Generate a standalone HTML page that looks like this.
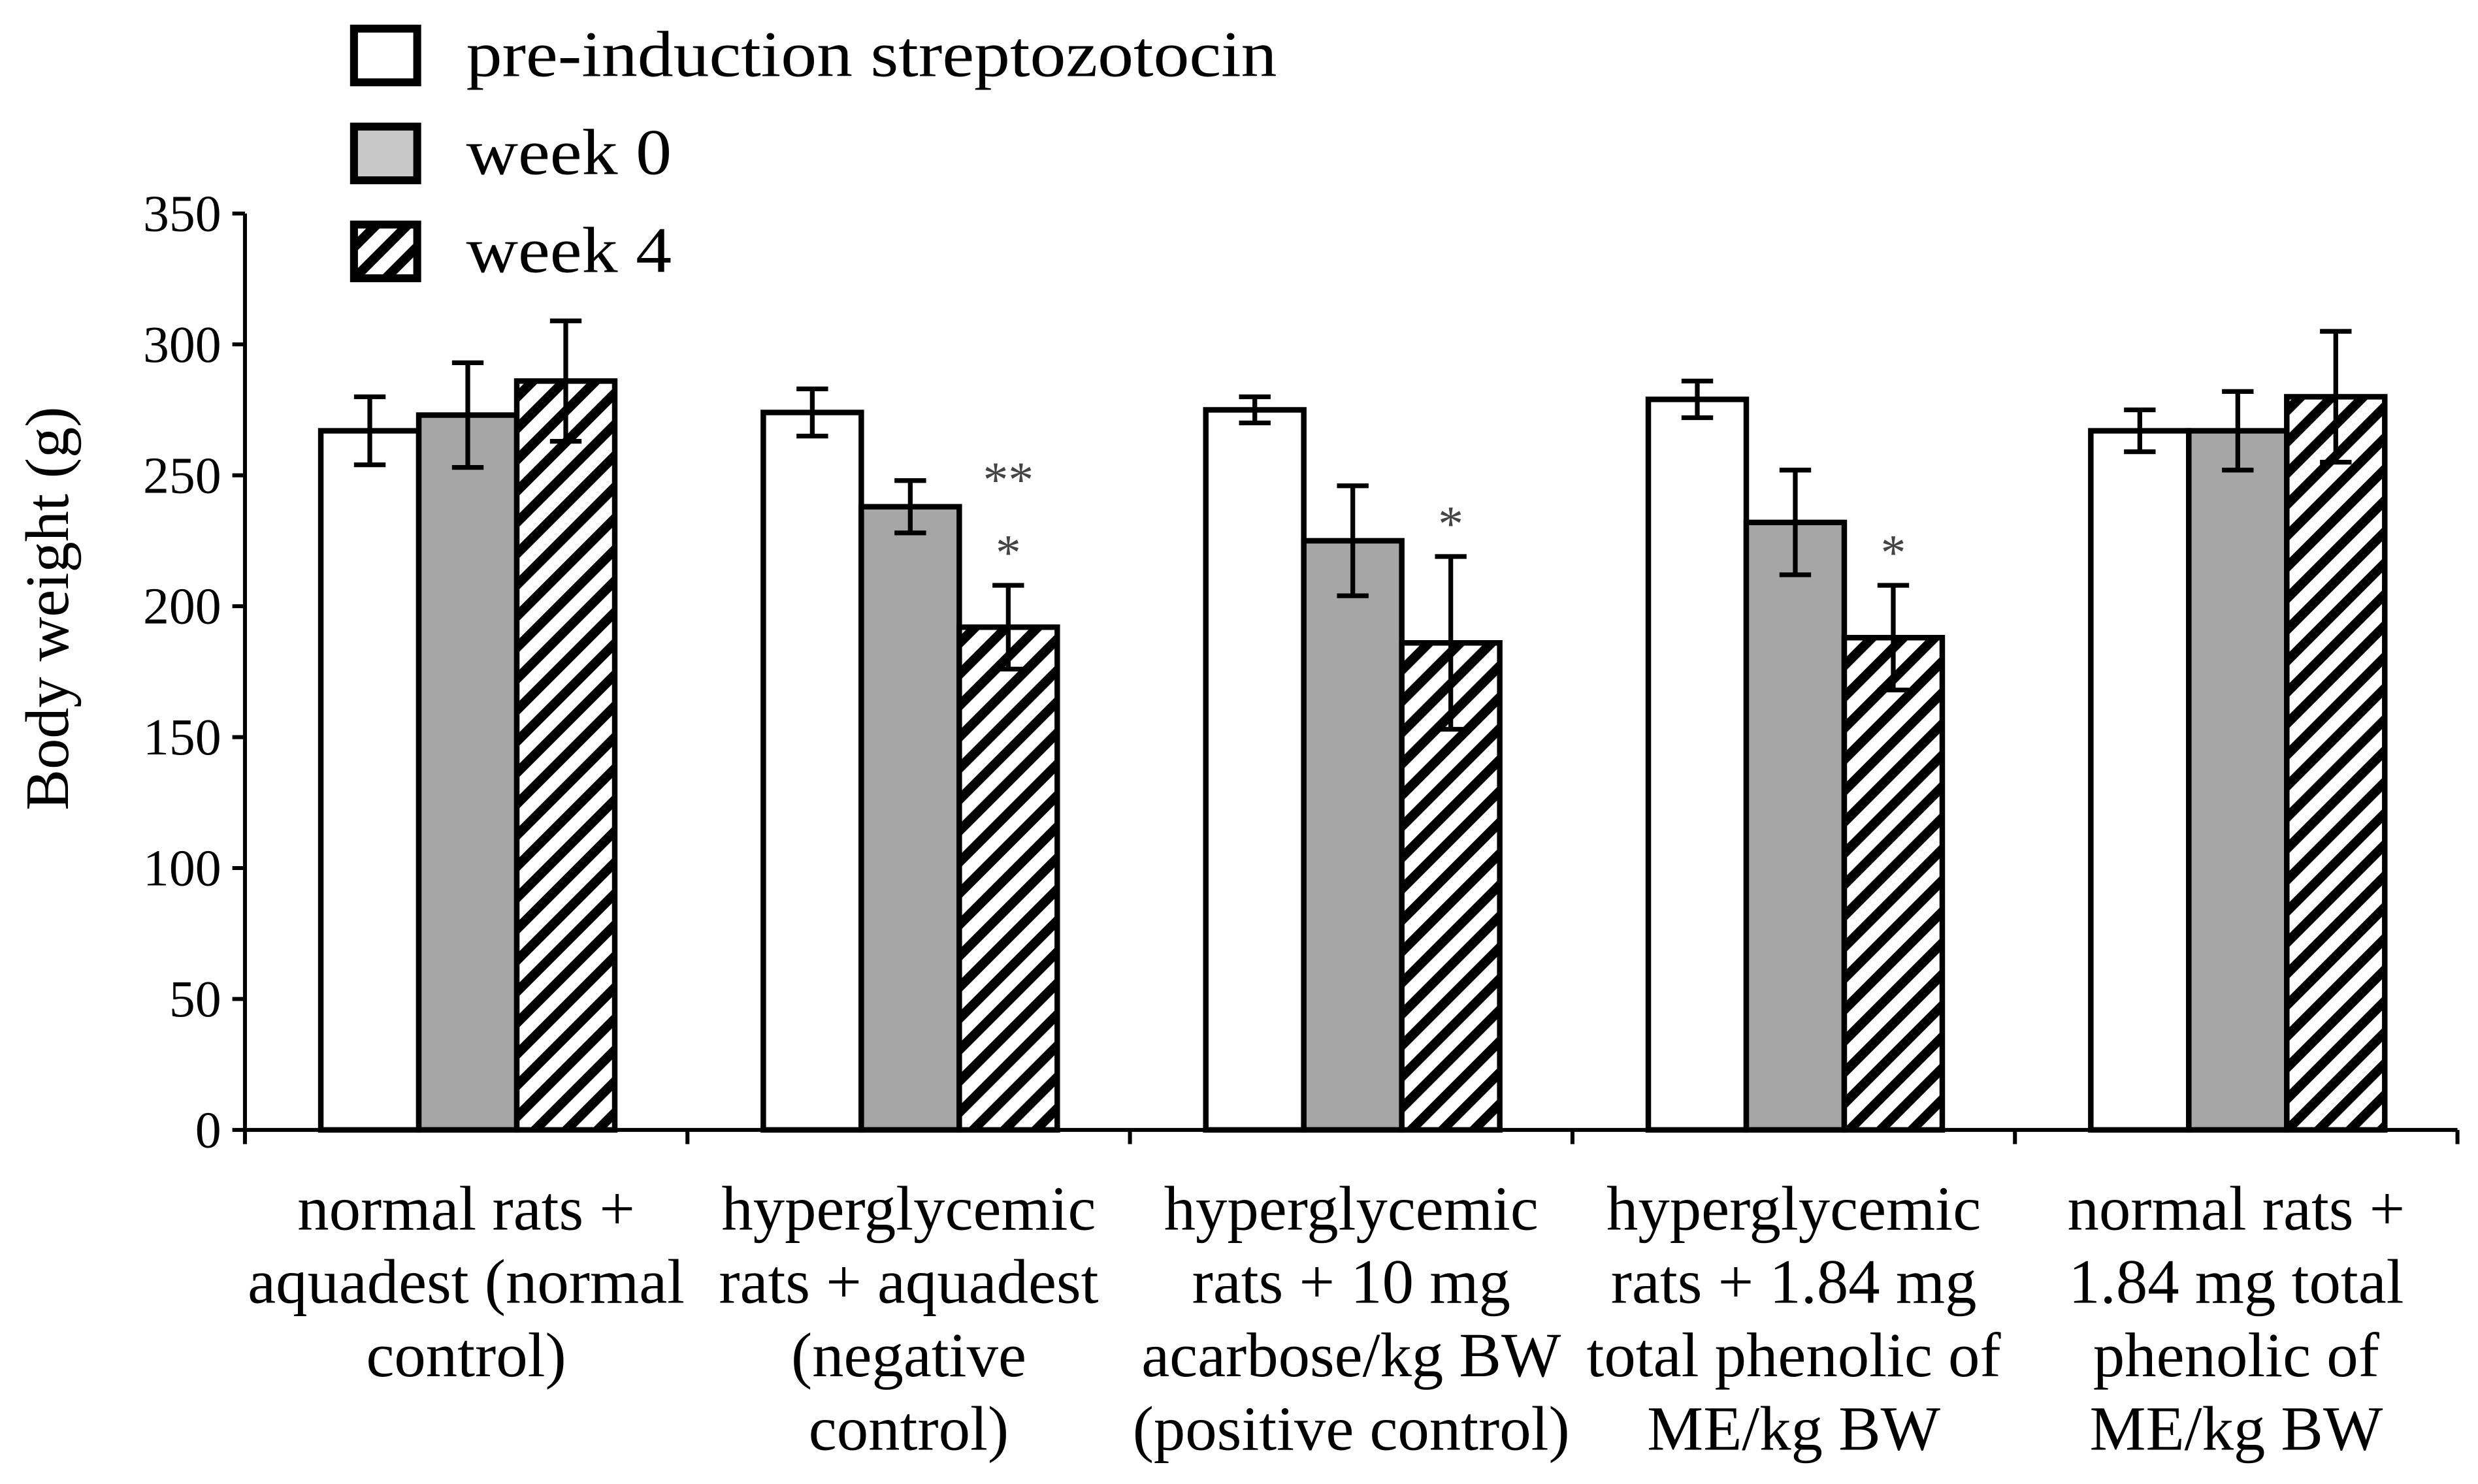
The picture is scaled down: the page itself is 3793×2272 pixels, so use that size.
<!DOCTYPE html>
<html><head><meta charset="utf-8"><style>
html,body{margin:0;padding:0;background:#fff;}
svg{display:block;}
text{font-family:"Liberation Serif",serif;fill:#000;}
</style></head><body>
<svg id="chart" width="3793" height="2272" viewBox="0 0 1568 939" xmlns="http://www.w3.org/2000/svg">
<defs>
<pattern id="hatch" patternUnits="userSpaceOnUse" width="14" height="14" patternTransform="rotate(45)">
<rect width="14" height="14" fill="#fff"/>
<rect x="0" y="0" width="6" height="14" fill="#000"/>
</pattern>
</defs>
<g id="legend">
<g>
<rect x="224" y="18" width="40" height="34" fill="#fff" stroke="#000" stroke-width="5"/>
<text x="295" y="48" font-size="41" textLength="513" lengthAdjust="spacingAndGlyphs">pre-induction streptozotocin</text></g>
<g>
<rect x="224" y="80" width="40" height="34" fill="#c8c8c8" stroke="#000" stroke-width="5"/>
<text x="295" y="110" font-size="41" textLength="130" lengthAdjust="spacingAndGlyphs">week 0</text></g>
<g>
<rect x="224" y="142" width="40" height="34" fill="url(#hatch)" stroke="#000" stroke-width="5"/>
<text x="295" y="172" font-size="41" textLength="130" lengthAdjust="spacingAndGlyphs">week 4</text></g>
</g>
<g id="plot"></g>
<text transform="translate(43,385) rotate(-90)" text-anchor="middle" font-size="39">Body weight (g)</text>
</svg>
<script>
const categories = [
 ["normal rats +","aquadest (normal","control)"],
 ["hyperglycemic","rats + aquadest","(negative","control)"],
 ["hyperglycemic","rats + 10 mg","acarbose/kg BW","(positive control)"],
 ["hyperglycemic","rats + 1.84 mg","total phenolic of","ME/kg BW"],
 ["normal rats +","1.84 mg total","phenolic of","ME/kg BW"]
];
const preInduction = [267, 274, 275, 279, 267];
const week0 = [273, 238, 225, 232, 267];
const week4 = [286, 192, 186, 188, 280];
const preErr = [13, 9, 5, 7, 8];
const w0Err = [20, 10, 21, 20, 15];
const w4Err = [23, 16, 33, 20, 25];
const yTicks = [0, 50, 100, 150, 200, 250, 300, 350];
const stars = [[], ["**","*"], ["*"], ["*"], []];

const NS = "http://www.w3.org/2000/svg";
const plot = document.getElementById("plot");
const X0 = 155, X1 = 1555, Y0 = 715, YTOP = 135, YMAX = 350;
const yScale = v => Y0 - (v / YMAX) * (Y0 - YTOP);
const groupW = (X1 - X0) / categories.length;
const gCenter = i => X0 + groupW * (i + 0.5);
const BW = 62;
function mk(tag, attrs) {
  const e = document.createElementNS(NS, tag);
  for (const k in attrs) e.setAttribute(k, attrs[k]);
  plot.appendChild(e);
  return e;
}
const series = [
  {vals: preInduction, err: preErr, fill: "#fff", name: "pre-induction"},
  {vals: week0, err: w0Err, fill: "#a6a6a6", name: "week-0"},
  {vals: week4, err: w4Err, fill: "url(#hatch)", name: "week-4"}
];
categories.forEach((cat, i) => {
  series.forEach((s, j) => {
    const x = gCenter(i) - 1.5 * BW + j * BW + 1;
    const y = yScale(s.vals[i]);
    const r = mk("rect", {x: x, y: y, width: BW, height: Y0 - y, fill: s.fill, stroke: "#000", "stroke-width": 3.5});
    
    
    const cx = x + BW / 2, hi = yScale(s.vals[i] + s.err[i]), lo = yScale(s.vals[i] - s.err[i]);
    const eb = mk("path", {d: `M${cx},${hi}V${lo}M${cx-10},${hi}H${cx+10}M${cx-10},${lo}H${cx+10}`, stroke: "#000", "stroke-width": 3, fill: "none"});
    
    
  });
  const sx = gCenter(i) + BW + 1;
  stars[i].forEach((st, k) => {
    const top = yScale(week4[i] + w4Err[i]);
    const t = mk("text", {x: sx, y: top - 30 - (stars[i].length - 1 - k) * 46 + 20, "text-anchor": "middle", "font-size": 32});
    t.style.fill = "#444";
    t.textContent = st;
    
    
  });
  cat.forEach((line, k) => {
    const t = mk("text", {x: gCenter(i), y: 778 + k * 46.5, "text-anchor": "middle", "font-size": 40});
    t.textContent = line;
    
    
  });
});
const ax = mk("path", {d: `M${X0},${YTOP}V${Y0}H${X1}`, stroke: "#000", "stroke-width": 2.5, fill: "none"});


yTicks.forEach(v => {
  const y = yScale(v);
  const tk = mk("line", {x1: X0 - 8, x2: X0, y1: y, y2: y, stroke: "#000", "stroke-width": 2.5});
  
  
  const t = mk("text", {x: 140, y: y + 11, "text-anchor": "end", "font-size": 33});
  t.textContent = v;
  
  
});
for (let i = 0; i <= categories.length; i++) {
  const x = X0 + groupW * i;
  const tk = mk("line", {x1: x, x2: x, y1: Y0, y2: Y0 + 9, stroke: "#000", "stroke-width": 2.5});
  
  
}
</script>
</body></html>
